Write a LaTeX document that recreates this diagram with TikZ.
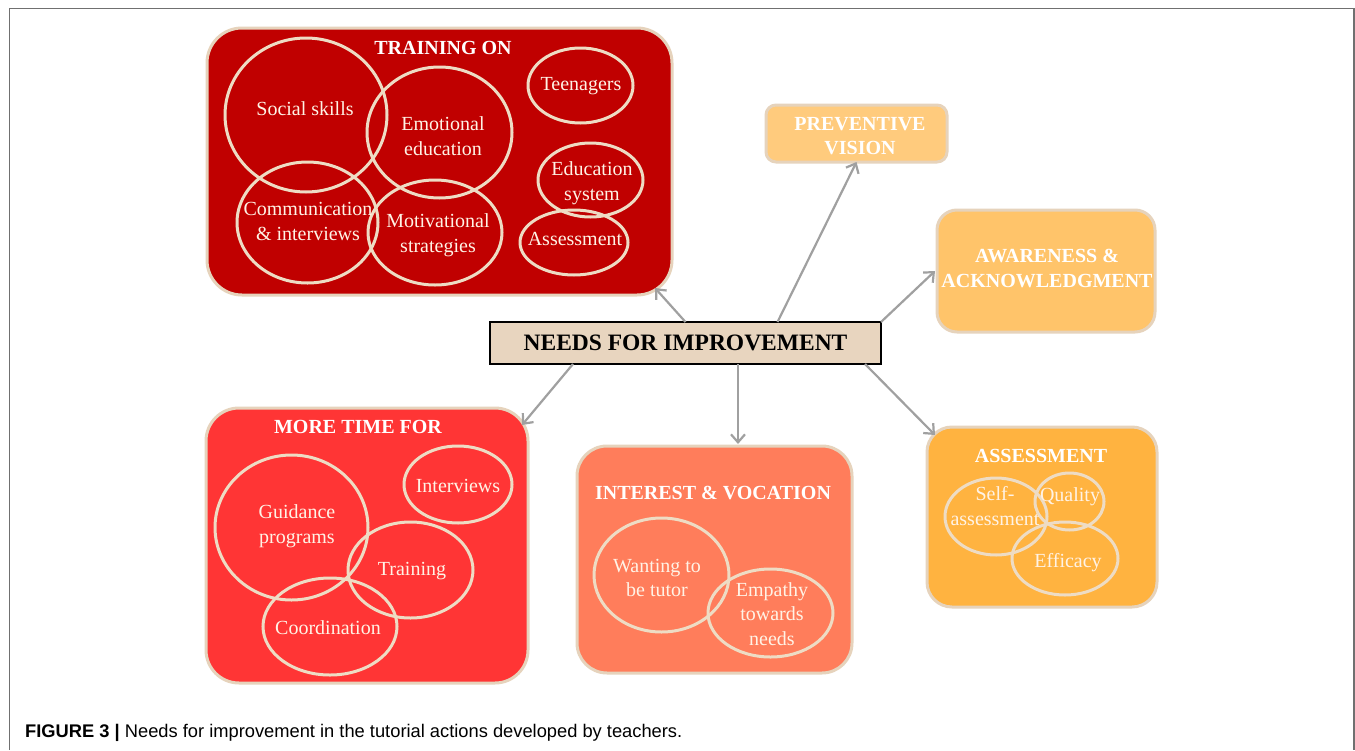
\documentclass[tikz,border=0pt]{standalone}
\usepackage{fontspec}
\setmainfont{Liberation Serif}
\newfontfamily\capfont{Liberation Sans}
\usetikzlibrary{shapes.geometric,arrows.meta,calc}
\definecolor{trainred}{HTML}{C00000}
\definecolor{morered}{HTML}{FF3535}
\definecolor{coral}{HTML}{FF7D5B}
\definecolor{assessor}{HTML}{FFB340}
\definecolor{prevor}{HTML}{FFCB7D}
\definecolor{awareor}{HTML}{FFC46A}
\definecolor{boxedge}{HTML}{E6D3BC}
\definecolor{elledge}{HTML}{EEDCC4}
\definecolor{centerfill}{HTML}{E8D5BF}
\definecolor{arrgray}{HTML}{A0A0A0}
\definecolor{framegray}{HTML}{707070}
\definecolor{lbltext}{HTML}{FFF3E6}
\begin{document}
\begin{tikzpicture}[x=1pt,y=-1pt,
  groupbox/.style={draw=boxedge, line width=3pt, rectangle, inner sep=0pt, outer sep=0pt},
  ell/.style={draw=elledge, line width=3pt, ellipse, inner sep=0pt},
  lbl/.style={text=lbltext, align=center, font=\fontsize{20}{24.5}\selectfont, inner sep=0pt},
  ttl/.style={text=white, align=center, font=\fontsize{20}{24.5}\selectfont\bfseries, inner sep=0pt},
  conn/.style={draw=arrgray, line width=2.2pt, -{Straight Barb[length=8pt,width=14pt,line width=2.2pt]}}
]
\useasboundingbox (0,0) rectangle (1355,750);
\fill[white] (0,0) rectangle (1355,750);
\draw[framegray, line width=1.5pt] (9.5,750) -- (9.5,8.5) -- (1354,8.5) -- (1354,750);

% group boxes
\node[groupbox, fill=trainred, minimum width=465pt, minimum height=267pt, rounded corners=35pt] (train) at (439.5,161.5) {};
\node[groupbox, fill=prevor, minimum width=181pt, minimum height=57pt, rounded corners=10pt] (prev) at (856.5,133.5) {};
\node[groupbox, fill=awareor, minimum width=218pt, minimum height=122pt, rounded corners=20pt] (aware) at (1046,271) {};
\node[groupbox, fill=assessor, minimum width=230pt, minimum height=180pt, rounded corners=25pt] (assess) at (1042,517) {};
\node[groupbox, fill=morered, minimum width=322pt, minimum height=275pt, rounded corners=33pt] (more) at (367,545.5) {};
\node[groupbox, fill=coral, minimum width=275pt, minimum height=227pt, rounded corners=30pt] (interest) at (714.5,559.5) {};

% central node
\node[draw=black, line width=2.7pt, fill=centerfill, minimum width=391pt, minimum height=42pt, inner sep=0pt, outer sep=0pt,
      font=\fontsize{23.5}{28}\selectfont\bfseries] (c) at (685.5,343) {NEEDS FOR IMPROVEMENT};

% titles
\node[ttl] (trainT) at (443,48) {TRAINING ON};
\node[ttl] (prevT) at (860,136) {PREVENTIVE\\VISION};
\node[ttl] (awareT) at (1047,268.5) {AWARENESS \&\\ACKNOWLEDGMENT};
\node[ttl] (assessT) at (1041,456) {ASSESSMENT};
\node[ttl] (moreT) at (358,427) {MORE TIME FOR};
\node[ttl] (interestT) at (713,493) {INTEREST \& VOCATION};

% ellipses: training on
\node[ell, minimum width=162pt, minimum height=154pt] (ss) at (306,115) {};
\node[ell, minimum width=145pt, minimum height=131pt] (ee) at (439.5,132.5) {};
\node[ell, minimum width=141pt, minimum height=121pt] (ci) at (307.5,222.5) {};
\node[ell, minimum width=134pt, minimum height=105pt] (ms) at (435,232.5) {};
\node[ell, minimum width=105pt, minimum height=75pt] (tn) at (580.5,85.5) {};
\node[ell, minimum width=105pt, minimum height=74pt] (es) at (590.5,180) {};
\node[ell, minimum width=108pt, minimum height=65pt] (as) at (574,242.5) {};
% ellipses: more time for
\node[ell, minimum width=153pt, minimum height=145pt] (gp) at (291.5,527.5) {};
\node[ell, minimum width=108pt, minimum height=77pt] (iv) at (458,484.5) {};
\node[ell, minimum width=125pt, minimum height=96pt] (tr) at (410.5,570) {};
\node[ell, minimum width=134pt, minimum height=97pt] (co) at (330,626.5) {};
% ellipses: interest
\node[ell, minimum width=135pt, minimum height=114pt] (wt) at (661.5,575) {};
\node[ell, minimum width=125pt, minimum height=88pt] (em) at (770.5,613) {};
% ellipses: assessment
\node[ell, minimum width=102pt, minimum height=77pt] (sa) at (996,516.5) {};
\node[ell, minimum width=69pt, minimum height=57pt] (qu) at (1069.5,501.5) {};
\node[ell, minimum width=106pt, minimum height=73pt] (ef) at (1065,558.5) {};

% labels
\node[lbl] (ssL) at (305,109) {Social skills};
\node[lbl] (eeL) at (443,136) {Emotional\\education};
\node[lbl] (ciL) at (308,221.5) {Communication\\\& interviews};
\node[lbl] (msL) at (438,235) {Motivational\\strategies};
\node[lbl] (tnL) at (581,86) {Teenagers};
\node[lbl] (esL) at (592,183) {Education\\system};
\node[lbl] (asL) at (575,239) {Assessment};
\node[lbl] (gpL) at (297,526) {Guidance\\programs};
\node[lbl] (ivL) at (458,486) {Interviews};
\node[lbl] (trL) at (412,571) {Training};
\node[lbl] (coL) at (328,628) {Coordination};
\node[lbl] (wtL) at (657,578) {Wanting to\\be tutor};
\node[lbl] (emL) at (772,614) {Empathy\\towards\\needs};
\node[lbl] (saL) at (995,506) {Self-\\assessment};
\node[lbl] (quL) at (1070,497) {Quality};
\node[lbl] (efL) at (1068,563) {Efficacy};

% connector ends
\coordinate (t1) at (655,288);
\coordinate (t4) at (522,425);
\coordinate (t5) at (738,444);
\coordinate (t6) at (935,435);

\draw[conn] (c.north) -- (t1);
\draw[conn] ($(c.north)+(92,0)$) -- (prev.south);
\draw[conn] (c.north east) -- ($(aware.west)+(-2,0)$);
\draw[conn] ($(c.south west)+(83,0)$) -- (t4);
\draw[conn] ($(c.south west)+(248,0)$) -- (t5);
\draw[conn] ($(c.south east)+(-16,0)$) -- (t6);

% caption
\node[anchor=base west, inner sep=0pt, font=\capfont\fontsize{18.3}{20}\selectfont] (cap) at (25,737.5)
  {\textbf{FIGURE 3 |} Needs for improvement in the tutorial actions developed by teachers.};
\end{tikzpicture}
\end{document}
